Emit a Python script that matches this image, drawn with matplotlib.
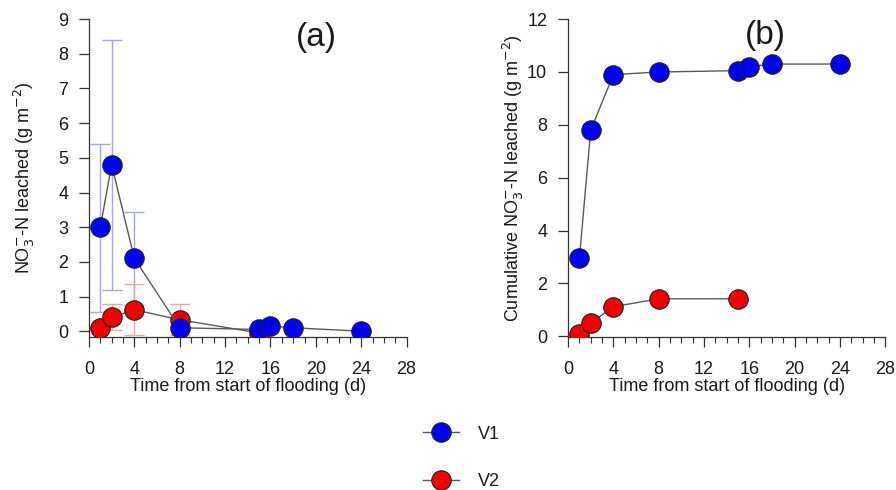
import numpy as np
from matplotlib import pyplot as plt
from matplotlib.lines import Line2D
from matplotlib.ticker import MultipleLocator

plt.rcParams["font.family"] = ["Liberation Sans", "DejaVu Sans"]

# daily leaching, V1
days_v1 = [1, 2, 4, 8, 15, 16, 18, 24]
leach_v1 = [3.0, 4.8, 2.1, 0.1, 0.05, 0.15, 0.1, 0.0]
err_lo_v1 = [2.45, 3.6, 1.35, 0.0, 0.0, 0.0, 0.0, 0.0]
err_hi_v1 = [2.4, 3.6, 1.35, 0.0, 0.0, 0.0, 0.0, 0.0]

# daily leaching, V2
days_v2 = [1, 2, 4, 8, 15]
leach_v2 = [0.08, 0.4, 0.62, 0.33, -0.05]
err_lo_v2 = [0.0, 0.36, 0.72, 0.43, 0.0]
err_hi_v2 = [0.0, 0.38, 0.73, 0.45, 0.0]

# cumulative leaching
cum_v1 = [2.95, 7.8, 9.9, 10.0, 10.05, 10.2, 10.3, 10.3]
cum_v2 = [0.07, 0.5, 1.12, 1.42, 1.42]

blue = "#0000ee"
red = "#ee0000"
line_c = "#5a5a5a"
axis_c = "#333333"
text_c = "#1a1a1a"
mk = dict(marker="o", markersize=14, markeredgecolor="#222222",
          markeredgewidth=0.8, color=line_c, linewidth=1.0)

fig = plt.figure(figsize=(8.96, 4.9), dpi=100)
ax_a = fig.add_axes([0.0993, 0.312, 0.3545, 0.649])
ax_b = fig.add_axes([0.634, 0.312, 0.354, 0.649])

# error bars first so the markers sit on top
ax_a.errorbar(days_v1, leach_v1, yerr=[err_lo_v1, err_hi_v1], fmt="none",
              ecolor="#a4a8e4", elinewidth=1.0, capsize=7, capthick=1.0, zorder=1)
ax_a.errorbar(days_v2, leach_v2, yerr=[err_lo_v2, err_hi_v2], fmt="none",
              ecolor="#f2a4a4", elinewidth=1.0, capsize=7, capthick=1.0, zorder=1)
ax_a.plot(days_v2, leach_v2, markerfacecolor=red, zorder=3, **mk)
ax_a.plot(days_v1, leach_v1, markerfacecolor=blue, zorder=4, **mk)

ax_b.plot(days_v1, cum_v1, markerfacecolor=blue, zorder=3, **mk)
ax_b.plot(days_v2, cum_v2, markerfacecolor=red, zorder=3, **mk)

for ax in (ax_a, ax_b):
    ax.set_xlim(0, 28)
    ax.xaxis.set_major_locator(MultipleLocator(4))
    ax.xaxis.set_minor_locator(MultipleLocator(1))
    ax.spines[["top", "right"]].set_visible(False)
    for s in ("left", "bottom"):
        ax.spines[s].set_color(axis_c)
        ax.spines[s].set_linewidth(0.9)
    ax.tick_params(which="major", length=7, width=0.9, color=axis_c,
                   labelsize=13, labelcolor=text_c, direction="out")
    ax.tick_params(which="minor", length=4.5, width=0.8, color=axis_c)
    ax.tick_params(axis="x", which="major", pad=10)
    ax.tick_params(axis="y", which="major", pad=8)
    ax.tick_params(axis="y", which="minor", left=False)
    ax.set_xlabel("Time from start of flooding (d)", fontsize=13, color=text_c,
                  labelpad=0)

ax_a.set_ylim(-0.17, 9)
ax_a.yaxis.set_major_locator(MultipleLocator(1))
ax_a.set_ylabel(r"NO$_3^{-}$-N leached (g m$^{-2}$)", fontsize=13,
                color=text_c, labelpad=15)
ax_a.text(0.716, 0.943, "(a)", transform=ax_a.transAxes, fontsize=24,
          ha="center", va="center", color=text_c)

ax_b.set_ylim(-0.03, 12)
ax_b.yaxis.set_major_locator(MultipleLocator(2))
ax_b.set_ylabel(r"Cumulative NO$_3^{-}$-N leached (g m$^{-2}$)", fontsize=13,
                color=text_c, labelpad=1)
ax_b.text(0.621, 0.95, "(b)", transform=ax_b.transAxes, fontsize=24,
          ha="center", va="center", color=text_c)

handles = [
    Line2D([], [], markerfacecolor=blue, **mk),
    Line2D([], [], markerfacecolor=red, **mk),
]
fig.legend(handles, ["V1", "V2"], loc="center", bbox_to_anchor=(0.515, 0.065),
           frameon=False, fontsize=13, handlelength=2.0, labelspacing=1.7,
           handletextpad=1.0, labelcolor=text_c)

fig.savefig("out.png", dpi=100)
